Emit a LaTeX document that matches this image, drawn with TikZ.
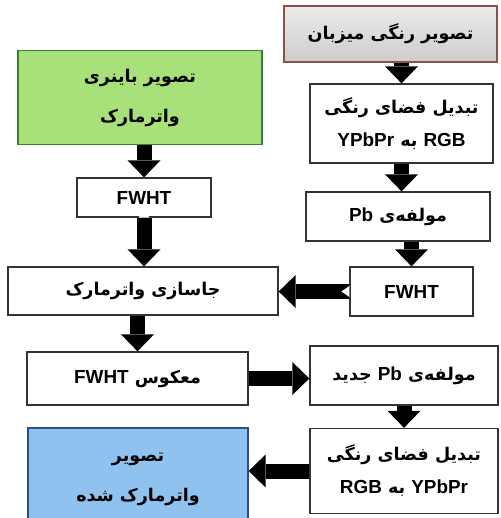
\documentclass[tikz,border=0pt]{standalone}
\usepackage{fontspec}
\TeXXeTstate=1
\newfontfamily\arabicfont[Script=Arabic]{DejaVu Sans}
\newfontfamily\latfont[Scale=1.08]{Liberation Sans}
\usetikzlibrary{arrows.meta,calc}
\newcommand{\LT}[1]{\beginL{\latfont\bfseries #1}\endL{}}
\begin{document}
\begin{tikzpicture}[x=1pt,y=-1pt,
  box/.style={draw=black!80, line width=1.3pt, fill=white, inner sep=0pt,
    font=\arabicfont\bfseries\fontsize{17.5}{21}\selectfont, align=center},
  barrow/.style={line width=15pt, draw=black,
    -{Triangle[length=17pt,width=33pt,line width=0pt]}},
  notch/.style={fill=white},
  hostbox/.style={box, draw=red!40!black!70, top color=gray!15, bottom color=gray!40},
  greenbox/.style={box, draw=green!40!black!80, fill={rgb,255:red,168;green,225;blue,122}},
  bluebox/.style={box, draw={rgb,255:red,40;green,80;blue,130}, fill={rgb,255:red,144;green,194;blue,240}}
]
\useasboundingbox (0,0) rectangle (500,518);
\fill[white] (0,0) rectangle (500,518);

\node[hostbox, minimum width=213pt, minimum height=56pt] (host) at (390.5,34)
  {\beginR تصویر رنگی میزبان\endR};
\node[box, minimum width=183pt, minimum height=79pt] (conv1) at (401.5,123.5)
  {\beginR تبدیل فضای رنگی\endR\\[12pt]\beginR \LT{RGB} به \LT{YPbPr}\endR};
\node[box, minimum width=184pt, minimum height=49pt] (pb) at (398,216.5)
  {\beginR مولفه‌ی \LT{Pb}\endR};
\node[box, minimum width=123pt, minimum height=49pt] (fwhtR) at (411.5,291.5)
  {\LT{FWHT}};
\node[box, minimum width=270pt, minimum height=48pt] (embed) at (143,291)
  {\beginR جاسازی واترمارک\endR};
\node[box, minimum width=188pt, minimum height=59pt] (newpb) at (404,375.5)
  {\beginR مولفه‌ی \LT{Pb} جدید\endR};
\node[box, minimum width=188pt, minimum height=85pt] (conv2) at (404,471)
  {\beginR تبدیل فضای رنگی\endR\\[12pt]\beginR \LT{YPbPr} به \LT{RGB}\endR};
\node[greenbox, minimum width=244pt, minimum height=94pt] (green) at (140,97.5)
  {\beginR تصویر باینری\endR\\[19pt]\beginR واترمارک\endR};
\node[box, minimum width=134pt, minimum height=39pt] (fwhtL) at (144,197.5)
  {\LT{FWHT}};
\node[box, minimum width=221pt, minimum height=53pt] (inv) at (137.5,378.5)
  {\beginR معکوس \LT{FWHT}\endR};
\node[bluebox, minimum width=220pt, minimum height=102pt] (blue) at (138,479)
  {\beginR تصویر\endR\\[19pt]\beginR واترمارک شده\endR};

\draw[barrow] (host.south -| conv1.north) -- (conv1.north);
\draw[barrow] (conv1.south) -- (conv1.south |- pb.north);
\draw[barrow] (pb.south -| fwhtR.north) -- (fwhtR.north);
\draw[barrow] (fwhtR.west) -- (fwhtR.west -| embed.east);
\fill[notch] ([yshift=-5.5pt]fwhtR.west) -- ([xshift=-8pt]fwhtR.west) -- ([yshift=5.5pt]fwhtR.west) -- cycle;
\draw[barrow] (green.south -| fwhtL.north) -- (fwhtL.north);
\draw[barrow] (fwhtL.south) -- (fwhtL.south |- embed.north);
\fill[notch] ([xshift=-5.5pt]fwhtL.south) -- ([yshift=8pt]fwhtL.south) -- ([xshift=5.5pt]fwhtL.south) -- cycle;
\draw[barrow] (inv.north |- embed.south) -- (inv.north);
\draw[barrow] (inv.east) -- (inv.east -| newpb.west);
\draw[barrow] (newpb.south -| conv2.north) -- (conv2.north);
\draw[barrow] (conv2.west) -- (conv2.west -| blue.east);
\end{tikzpicture}
\end{document}
